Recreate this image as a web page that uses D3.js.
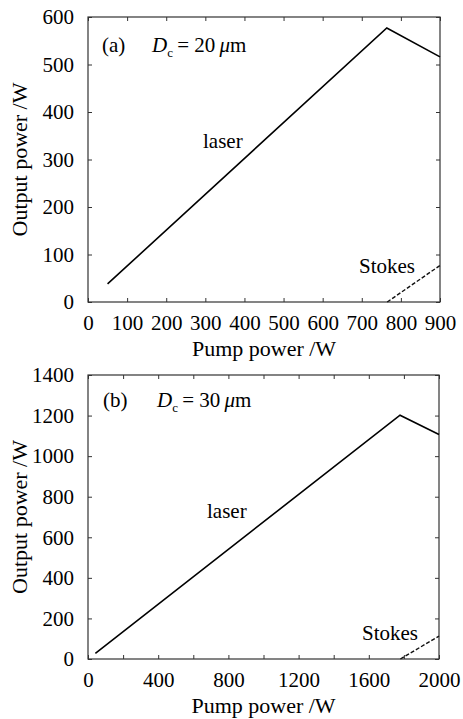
<!DOCTYPE html>
<html><head><meta charset="utf-8">
<script src="https://cdn.jsdelivr.net/npm/d3@7"></script>
<style>
body{margin:0;background:#fff}
text{font-family:"Liberation Serif","Times New Roman",serif;fill:#000}
</style>
</head><body>
<svg id="c" width="463" height="719"></svg>
<script>
// Panel (a): D_c = 20 µm
const laserA_x = [50, 764, 900];
const laserA_y = [38, 577, 516];
const stokesA_x = [765, 900];
const stokesA_y = [0, 77];
const xTicksA = [0,100,200,300,400,500,600,700,800,900];
const yTicksA = [0,100,200,300,400,500,600];

// Panel (b): D_c = 30 µm
const laserB_x = [42, 1778, 2000];
const laserB_y = [28, 1202, 1107];
const stokesB_x = [1780, 2000];
const stokesB_y = [0, 113];
const xTicksB = [0,200,400,600,800,1000,1200,1400,1600,1800,2000];
const xLabelsB = [0,400,800,1200,1600,2000];
const yTicksB = [0,200,400,600,800,1000,1200,1400];

const svg = d3.select("#c");
svg.append("rect").attr("width",463).attr("height",719).attr("fill","#fff");

function panel(cfg){
  const x = d3.scaleLinear().domain(cfg.xd).range([cfg.l, cfg.r]);
  const y = d3.scaleLinear().domain(cfg.yd).range([cfg.b, cfg.t]);
  const g = svg.append("g");
  const fmtX = d => cfg.xLabels.includes(d) ? String(d) : "";
  const ax = g.append("g").attr("transform",`translate(0,${cfg.b})`)
    .call(d3.axisBottom(x).tickValues(cfg.xTicks).tickFormat(fmtX).tickSizeInner(-4).tickSizeOuter(0).tickPadding(13));
  const at = g.append("g").attr("transform",`translate(0,${cfg.t})`)
    .call(d3.axisTop(x).tickValues(cfg.xTicks).tickFormat("").tickSizeInner(-4).tickSizeOuter(0));
  const ay = g.append("g").attr("transform",`translate(${cfg.l},0)`)
    .call(d3.axisLeft(y).tickValues(cfg.yTicks).tickFormat(d=>String(d)).tickSizeInner(-4).tickSizeOuter(0).tickPadding(14));
  const ar = g.append("g").attr("transform",`translate(${cfg.r},0)`)
    .call(d3.axisRight(y).tickValues(cfg.yTicks).tickFormat("").tickSizeInner(-4).tickSizeOuter(0));
  [ax,at,ay,ar].forEach(a=>{
    a.select(".domain").remove();
    a.selectAll("line").attr("stroke","#333").attr("stroke-width",1);
    a.selectAll("text").style("font-family",'"Liberation Serif",serif').style("font-size","21px").attr("fill","#000");
  });
  g.append("rect").attr("x",cfg.l).attr("y",cfg.t).attr("width",cfg.r-cfg.l).attr("height",cfg.b-cfg.t)
    .attr("fill","none").attr("stroke","#333").attr("stroke-width",1.2);

  const line = d3.line().x(d=>x(d[0])).y(d=>y(d[1]));
  g.append("path").attr("d", line(cfg.lx.map((v,i)=>[v,cfg.ly[i]])))
    .attr("fill","none").attr("stroke","#000").attr("stroke-width",1.6);
  g.append("path").attr("d", line(cfg.sx.map((v,i)=>[v,cfg.sy[i]])))
    .attr("fill","none").attr("stroke","#111").attr("stroke-width",1.4).attr("stroke-dasharray","4,2");

  // axis titles
  g.append("text").attr("transform",`translate(27,${(cfg.t+cfg.b)/2}) rotate(-90)`)
    .attr("text-anchor","middle").style("font-size","22px").text("Output power /W");
  g.append("text").attr("x",(cfg.l+cfg.r)/2).attr("y",cfg.xtY)
    .attr("text-anchor","middle").style("font-size","22px").text("Pump power /W");

  // annotations
  g.append("text").attr("x",cfg.tagX).attr("y",cfg.tagY).style("font-size","21px").text(cfg.tag);
  const t = g.append("text").attr("x",cfg.dX).attr("y",cfg.tagY).style("font-size","21px");
  t.append("tspan").style("font-style","italic").text("D");
  t.append("tspan").attr("dy",5).style("font-size","13px").text("c");
  t.append("tspan").attr("dy",-5).text("\u2009= " + cfg.dval + "\u2009");
  t.append("tspan").style("font-style","italic").text("\u03bc");
  t.append("tspan").text("m");

  g.append("text").attr("x",cfg.laserX).attr("y",cfg.laserY).style("font-size","21px").text("laser");
  g.append("text").attr("x",cfg.stX).attr("y",cfg.stY).style("font-size","21px").text("Stokes");
}

panel({xd:[0,900], yd:[0,600], l:88, r:440, t:17, b:302,
  xTicks:xTicksA, xLabels:xTicksA, yTicks:yTicksA,
  lx:laserA_x, ly:laserA_y, sx:stokesA_x, sy:stokesA_y,
  xtY:356, tag:"(a)", tagX:102, tagY:52, dX:152, dval:"20",
  laserX:203, laserY:148, stX:359, stY:273});

panel({xd:[0,2000], yd:[0,1400], l:88, r:439, t:375, b:659,
  xTicks:xTicksB, xLabels:xLabelsB, yTicks:yTicksB,
  lx:laserB_x, ly:laserB_y, sx:stokesB_x, sy:stokesB_y,
  xtY:713, tag:"(b)", tagX:103, tagY:407, dX:157, dval:"30",
  laserX:207, laserY:518, stX:362, stY:640});
</script>
</body></html>
